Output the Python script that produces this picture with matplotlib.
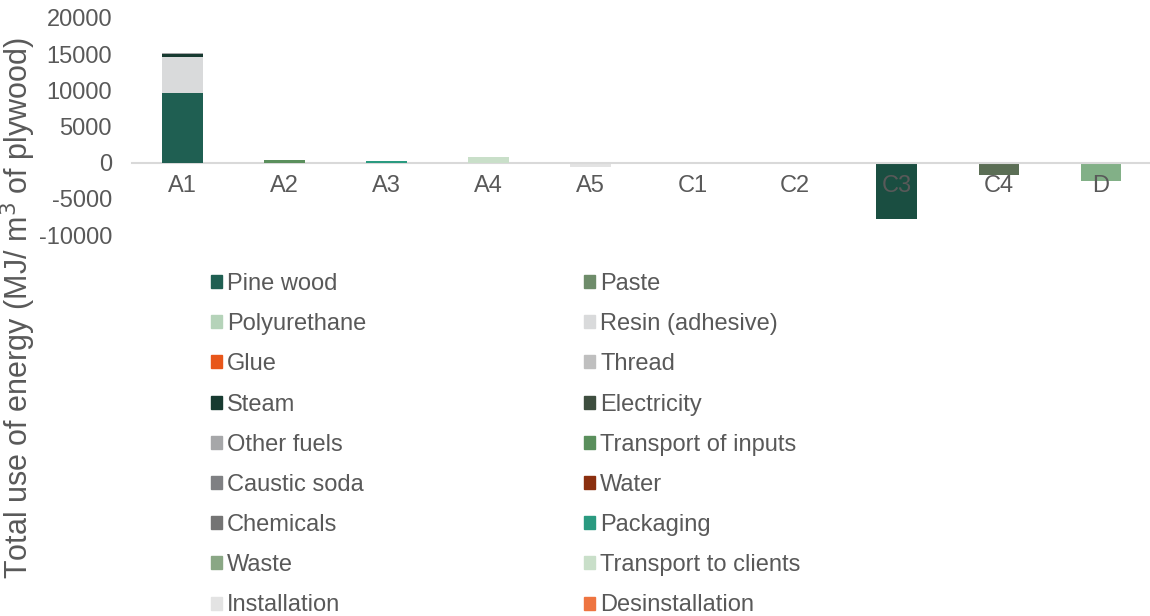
import matplotlib
matplotlib.use("Agg")
import matplotlib.pyplot as plt
import matplotlib.patches as mpatches
import numpy as np

categories = ["A1", "A2", "A3", "A4", "A5", "C1", "C2", "C3", "C4", "D"]

legend_names = [
    "Pine wood", "Paste", "Polyurethane", "Resin (adhesive)", "Glue", "Thread",
    "Steam", "Electricity", "Other fuels", "Transport of inputs", "Caustic soda",
    "Water", "Chemicals", "Packaging", "Waste", "Transport to clients",
    "Installation", "Desinstallation",
]
extra_names = ["Transport to treatment", "Incineration", "Landfill", "Recycling"]
series_names = legend_names + extra_names

pine_wood            = [9580, 0, 0, 0, 0, 0, 0, 0, 0, 0]
paste                = [0, 0, 0, 0, 0, 0, 0, 0, 0, 0]
polyurethane         = [40, 0, 0, 0, 0, 0, 0, 0, 0, 0]
resin                = [4980, 0, 0, 0, 0, 0, 0, 0, 0, 0]
glue                 = [0, 0, 0, 0, 0, 0, 0, 0, 0, 0]
thread               = [0, 0, 0, 0, 0, 0, 0, 0, 0, 0]
steam                = [420, 0, 0, 0, 0, 0, 0, 0, 0, 0]
electricity          = [20, 0, 0, 0, 0, 0, 0, 0, 0, 0]
other_fuels          = [100, 0, 0, 0, 0, 0, 0, 0, 0, 0]
transport_inputs     = [0, 420, 0, 0, 0, 0, 0, 0, 0, 0]
caustic_soda         = [0, 0, 0, 0, 0, 0, 0, 0, 0, 0]
water                = [0, 0, 0, 0, 0, 0, 0, 0, 0, 0]
chemicals            = [0, 0, 0, 0, 0, 0, 0, 0, 0, 0]
packaging            = [0, 0, 260, 0, 0, 0, 0, 0, 0, 0]
waste                = [0, 0, 0, 0, 0, 0, 0, 0, 0, 0]
transport_clients    = [0, 0, 0, 850, 0, 0, 0, 0, 0, 0]
installation         = [0, 0, 0, 0, -560, 0, 0, 0, 0, 0]
desinstallation      = [0, 0, 0, 0, 0, 0, 0, 0, 0, 0]
transport_treatment  = [0, 0, 0, 0, 0, 0, 0, 0, 0, 0]
incineration         = [0, 0, 0, 0, 0, 0, 0, -7850, 0, 0]
landfill             = [0, 0, 0, 0, 0, 0, 0, 0, -1700, 0]
recycling            = [0, 0, 0, 0, 0, 0, 0, 0, 0, -2600]

series_values = [
    pine_wood, paste, polyurethane, resin, glue, thread, steam, electricity,
    other_fuels, transport_inputs, caustic_soda, water, chemicals, packaging,
    waste, transport_clients, installation, desinstallation,
    transport_treatment, incineration, landfill, recycling,
]

series_colors = [
    "#1f5f52", "#6e8c6a", "#b5d3b9", "#d9dadb", "#e8561a", "#bfbfbf",
    "#173a30", "#3e4e3f", "#a6a7a9", "#5a8f5c", "#7f8083", "#8b2f0f",
    "#747474", "#2a9a80", "#8aa785", "#c9dfc9", "#e3e3e3", "#ee7440",
    "#9bb59a", "#1a4e41", "#5b6e55", "#82b087",
]

yticks = [-10000, -5000, 0, 5000, 10000, 15000, 20000]

plt.rcParams["font.family"] = ["Liberation Sans", "DejaVu Sans"]
text_color = "#595959"

fig = plt.figure(figsize=(11.5, 6.16), dpi=100)
ax = fig.add_axes([131.5 / 1150, 1 - 235 / 616, (1152 - 131.5) / 1150, (235 - 18) / 616])

x = np.arange(len(categories))
pos_bottom = np.zeros(len(categories))
neg_bottom = np.zeros(len(categories))
for name, vals, col in zip(series_names, series_values, series_colors):
    v = np.array(vals, dtype=float)
    pos = np.where(v > 0, v, 0)
    neg = np.where(v < 0, v, 0)
    if pos.any():
        ax.bar(x, pos, 0.4, bottom=pos_bottom, color=col, zorder=2)
        pos_bottom += pos
    if neg.any():
        ax.bar(x, neg, 0.4, bottom=neg_bottom, color=col, zorder=1)
        neg_bottom += neg

ax.set_xlim(-0.5, len(categories) - 0.5)
ax.set_ylim(-10000, 20000)
ax.set_yticks(yticks)
ax.set_yticklabels([str(t) for t in yticks])
ax.set_xticks(x)
ax.set_xticklabels(categories)

for s in ["top", "right", "left"]:
    ax.spines[s].set_visible(False)
ax.spines["bottom"].set_position(("data", 0))
ax.spines["bottom"].set_color("#d9d9d9")
ax.spines["bottom"].set_linewidth(1.5)
ax.spines["bottom"].set_zorder(1.5)
ax.tick_params(axis="both", length=0, labelsize=17, colors=text_color)
ax.tick_params(axis="y", pad=14)
ax.tick_params(axis="x", pad=9)

fig.text(18 / 1150, 0.5, "Total use of energy (MJ/ m$^3$ of plywood)", rotation=90,
         va="center", ha="center", fontsize=22, color=text_color)

handles = [mpatches.Patch(color=c, label=n)
           for n, c in zip(legend_names, series_colors[:len(legend_names)])]
left_h = handles[0::2]
right_h = handles[1::2]
common = dict(loc="upper left", frameon=False, fontsize=17, handlelength=0.47,
              handleheight=0.47, handletextpad=0.21, labelspacing=0.77,
              borderpad=0, borderaxespad=0, labelcolor=text_color)
leg1 = fig.legend(handles=left_h, bbox_to_anchor=(211 / 1150, 1 - 273 / 616), **common)
leg2 = fig.legend(handles=right_h, bbox_to_anchor=(584 / 1150, 1 - 273 / 616), **common)

fig.savefig("out.png", dpi=100)
